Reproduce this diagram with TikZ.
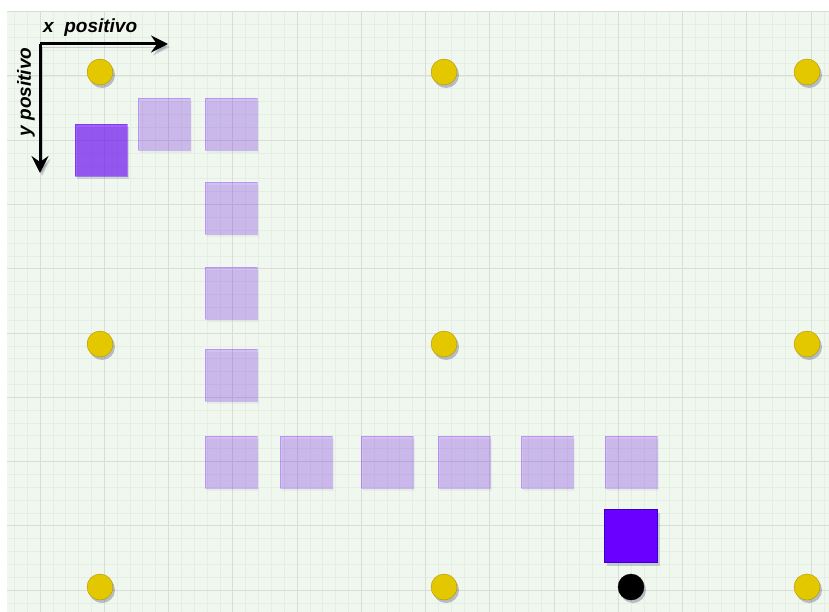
\documentclass[tikz,border=0pt]{standalone}
\usepackage{fontspec}
\setmainfont{Liberation Sans}
\usepackage{tikz}
\usetikzlibrary{arrows.meta,shadows}

\definecolor{grape}{HTML}{6A00FF}
\definecolor{grapedark}{HTML}{3700CC}
\definecolor{gold}{HTML}{E3C800}
\definecolor{golddark}{HTML}{B09500}
\definecolor{bggreen}{HTML}{F0F7EE}
\definecolor{gridminor}{HTML}{E5EEE3}
\definecolor{gridmajor}{HTML}{D8DED6}
\definecolor{shade}{HTML}{4A5070}

\begin{document}
\begin{tikzpicture}[x=1pt, y=-1pt,
    minor/.style={draw=gridminor, line width=0.7pt},
    major/.style={draw=gridmajor, line width=1pt},
    trail/.style={draw=grape, draw opacity=0.22, fill=grape, fill opacity=0.22, minimum size=52pt, inner sep=0pt,
        drop shadow={shadow xshift=2pt, shadow yshift=-3pt, opacity=0.06, fill=shade}},
    ghost/.style={draw=grape, draw opacity=0.45, fill=grape, fill opacity=0.6, minimum size=52pt, inner sep=0pt,
        drop shadow={shadow xshift=2pt, shadow yshift=-3pt, opacity=0.18, fill=shade}},
    block/.style={draw=grapedark, fill=grape, minimum size=53pt, inner sep=0pt,
        drop shadow={shadow xshift=2pt, shadow yshift=-3pt, opacity=0.25, fill=shade}},
    peg/.style={circle, draw=golddark, fill=gold, minimum size=26pt, inner sep=0pt,
        drop shadow={shadow xshift=2pt, shadow yshift=-3pt, opacity=0.35, fill=shade}},
    ball/.style={circle, draw=black, fill=black, minimum size=26pt, inner sep=0pt,
        drop shadow={shadow xshift=2pt, shadow yshift=-3pt, opacity=0.35, fill=shade}},
    axis/.style={-{Stealth[length=17pt, width=17pt, inset=6pt]}, line width=3pt,
        preaction={draw=shade, opacity=0.25, transform canvas={shift={(2pt,-3pt)}}}},
    axlbl/.style={font=\fontsize{19}{22}\selectfont\bfseries\itshape, inner sep=0pt}
]
\useasboundingbox (0,0) rectangle (829,612);
\fill[bggreen] (7,11) rectangle (829,612);

% grid
\foreach \i in {0,...,63}
    \draw[minor] ({14.3+12.85*\i},11) -- ({14.3+12.85*\i},612);
\foreach \j in {0,...,46}
    \draw[minor] (7,{11.75+12.85*\j}) -- (829,{11.75+12.85*\j});
\foreach \i in {0,...,12}
    \draw[major] ({40+64.25*\i},11) -- ({40+64.25*\i},612);
\foreach \j in {0,...,9}
    \draw[major] (7,{11.75+64.25*\j}) -- (829,{11.75+64.25*\j});

% pegs
\node[peg] (pegTL) at (100,72) {};
\node[peg] (pegTM) at (444,72) {};
\node[peg] (pegTR) at (807,72) {};
\node[peg] (pegML) at (100,344) {};
\node[peg] (pegMM) at (444,344) {};
\node[peg] (pegMR) at (807,344) {};
\node[peg] (pegBL) at (100,587) {};
\node[peg] (pegBM) at (444,587) {};
\node[peg] (pegBR) at (807,587) {};

% path of the piece
\node[ghost] (start) at (101,150) {};
\node[trail] (t1) at (164,124) {};
\node[trail] (t2) at (231,124) {};
\node[trail] (t3) at (231,208) {};
\node[trail] (t4) at (231,293) {};
\node[trail] (t5) at (231,375) {};
\node[trail] (t6) at (231,462) {};
\node[trail] (t7) at (306,462) {};
\node[trail] (t8) at (387,462) {};
\node[trail] (t9) at (464,462) {};
\node[trail] (t10) at (547,462) {};
\node[trail] (t11) at (631,462) {};
\node[block] (piece) at (631,536) {};
\node[ball] (goal) at (631,587) {};

% axes
\coordinate (orig) at (40,44);
\coordinate (xend) at (168,44);
\coordinate (yend) at (40,173);
\draw[axis] (orig) -- (xend);
\draw[axis] (orig) -- (yend);
\node[axlbl, anchor=west] (xlbl) at (43,28) {x\ \ positivo};
\node[axlbl, rotate=90] (ylbl) at (26,92) {y positivo};
\end{tikzpicture}
\end{document}
